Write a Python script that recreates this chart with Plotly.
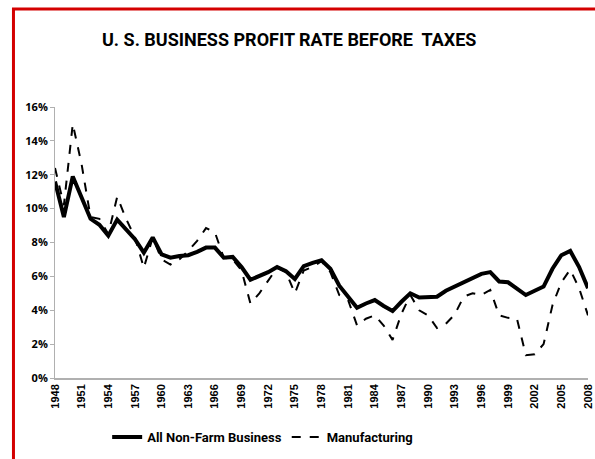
import plotly.graph_objects as go

years = list(range(1948, 2009))
nonfarm = [11.6, 9.5, 11.9, 10.7, 9.4, 9.05, 8.4, 9.35, 8.8, 8.2,
           7.4, 8.3, 7.3, 7.1, 7.2, 7.25, 7.45, 7.7, 7.7, 7.1,
           7.15, 6.55, 5.8, 6.0, 6.25, 6.55, 6.3, 5.85, 6.6, 6.8,
           6.95, 6.45, 5.45, 4.8, 4.15, 4.4, 4.6, 4.25, 3.95, 4.5,
           5.0, 4.75, 4.75, 4.8, 5.15, 5.4, 5.65, 5.95, 6.15, 6.25,
           5.7, 5.65, 5.3, 4.9, 5.15, 5.4, 6.45, 7.25, 7.5, 6.55, 5.3]
manufacturing = [12.4, 10.2, 15.0, 12.6, 9.5, 9.4, 8.5, 10.7, 9.4, 8.3,
                 6.5, 8.3, 7.0, 6.7, 7.0, 7.5, 8.1, 8.85, 8.6, 7.1,
                 7.0, 6.35, 4.4, 5.0, 5.75, 6.5, 6.25, 5.0, 6.35, 6.55,
                 6.9, 6.25, 4.9, 4.6, 3.1, 3.5, 3.7, 3.1, 2.25, 3.8,
                 4.9, 4.0, 3.7, 2.95, 3.2, 3.75, 4.8, 5.0, 4.9, 5.2,
                 3.7, 3.55, 3.5, 1.35, 1.4, 2.0, 4.3, 5.65, 6.4, 5.3, 3.7]
x_ticks = list(range(1948, 2009, 3))
y_ticks = [0, 2, 4, 6, 8, 10, 12, 14, 16]
y_labels = [f"{v}%" for v in y_ticks]

fig = go.Figure()
fig.add_trace(go.Scatter(x=years, y=nonfarm, mode="lines", name="All Non-Farm Business",
                         line=dict(color="black", width=4)))
fig.add_trace(go.Scatter(x=years, y=manufacturing, mode="lines", name="Manufacturing",
                         line=dict(color="black", width=2, dash="dash")))

L, R, T, B = 55, 1, 107, 81
W, H = 595, 459
pw, ph = W - L - R, H - T - B

def px_to_paper_x(px):
    return (px - L) / pw

def px_to_paper_y(py):
    return (H - B - py) / ph

fig.update_layout(
    width=W, height=H,
    margin=dict(l=L, r=R, t=T, b=B),
    paper_bgcolor="white", plot_bgcolor="white",
    showlegend=True,
    legend=dict(orientation="h", x=px_to_paper_x(265), xanchor="center", y=px_to_paper_y(437), yanchor="middle",
                font=dict(family="Roboto", size=13, color="black", weight="bold"),
                itemwidth=30, bgcolor="rgba(0,0,0,0)"),
    shapes=[dict(type="rect", xref="paper", yref="paper",
                 x0=px_to_paper_x(13), x1=px_to_paper_x(620),
                 y0=px_to_paper_y(480), y1=px_to_paper_y(9),
                 line=dict(color="#d40000", width=3), fillcolor="rgba(0,0,0,0)", layer="above")],
    annotations=[dict(text="<b>U. S. BUSINESS PROFIT RATE BEFORE  TAXES</b>", xref="paper", yref="paper",
                      x=px_to_paper_x(292), y=px_to_paper_y(39), xanchor="center", yanchor="middle",
                      showarrow=False, font=dict(family="Roboto", size=18, color="black"))],
)
fig.update_xaxes(range=[1948, 2008], tickvals=x_ticks, ticktext=[f"<b>{v}</b>" for v in x_ticks],
                 tickangle=-90, showgrid=False, zeroline=False, showline=True,
                 linecolor="#b0b0b0", linewidth=1.5, ticks="", ticklabeloverflow="allow",
                 tickfont=dict(family="Liberation Sans", size=11, color="black"))
fig.update_yaxes(range=[0, 16], tickvals=y_ticks, ticktext=[f"<b>{t}</b>" for t in y_labels],
                 showgrid=False, zeroline=False, showline=True, linecolor="#b0b0b0", linewidth=1,
                 ticks="outside", ticklen=4, tickcolor="#b0b0b0",
                 tickfont=dict(family="Open Sans", size=11, color="black"))

fig.write_html("out.html", config={"displayModeBar": False},
               post_script="document.body.style.margin='0';document.body.style.overflow='hidden';")
